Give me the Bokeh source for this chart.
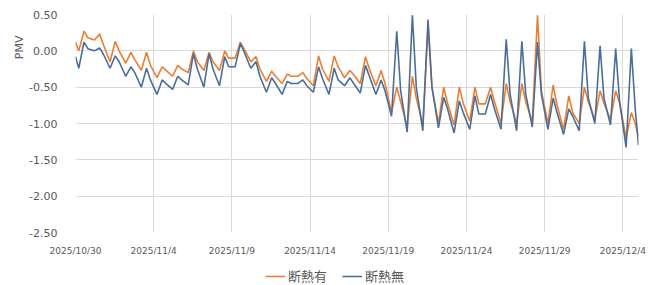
import pandas as pd
from bokeh.plotting import figure
from bokeh.layouts import column
from bokeh.models import FixedTicker, Legend, LegendItem, Title, Range1d
from bokeh.embed import file_html
from bokeh.resources import INLINE

# ---- data ----
first_day = "2025-10-30"
n_days = 36
sample_hours = [5, 13, 19]          # morning low, afternoon peak, evening

orange_start = 0.12
orange_end = -1.18
orange_min = [0.00, 0.15, -0.15, -0.17, -0.27, -0.37, -0.35, -0.30, -0.27, -0.27,
              -0.10, -0.15, -0.42, -0.45, -0.35, -0.48, -0.42, -0.37, -0.45, -0.48,
              -0.85, -1.05, -1.02, -1.00, -1.02, -0.97, -0.73, -1.00, -1.00, -0.98,
              -1.00, -1.08, -1.00, -0.95, -0.95, -1.20]
orange_peak = [0.27, 0.23, 0.13, -0.02, -0.02, -0.22, -0.20, 0.00, -0.02, 0.00,
               0.12, -0.08, -0.28, -0.32, -0.30, -0.07, -0.07, -0.27, -0.08, -0.27,
               -0.50, -0.35, 0.35, -0.50, -0.50, -0.50, -0.50, -0.45, -0.45, 0.49,
               -0.47, -0.62, -0.50, -0.55, -0.55, -0.85]
orange_eve = [0.18, 0.08, 0.00, -0.12, -0.20, -0.27, -0.25, -0.15, -0.15, -0.10,
              0.02, -0.25, -0.35, -0.35, -0.38, -0.25, -0.22, -0.33, -0.25, -0.45,
              -0.70, -0.65, -0.50, -0.72, -0.72, -0.73, -0.70, -0.70, -0.70, -0.55,
              -0.75, -0.85, -0.70, -0.72, -0.72, -1.00]

blue_start = -0.08
blue_end = -1.30
blue_min = [-0.24, 0.00, -0.24, -0.35, -0.50, -0.60, -0.53, -0.47, -0.50, -0.48,
            -0.22, -0.24, -0.57, -0.60, -0.45, -0.57, -0.60, -0.48, -0.58, -0.60,
            -0.90, -1.12, -1.10, -1.06, -1.13, -1.08, -0.87, -1.08, -1.10, -1.05,
            -1.08, -1.15, -1.10, -1.00, -1.02, -1.33]
blue_peak = [0.12, 0.04, -0.07, -0.22, -0.24, -0.40, -0.35, -0.04, -0.04, -0.08,
             0.10, -0.15, -0.37, -0.42, -0.40, -0.22, -0.24, -0.37, -0.20, -0.40,
             0.27, 0.49, 0.43, -0.64, -0.69, -0.62, -0.60, 0.16, 0.13, 0.12,
             -0.65, -0.80, 0.13, 0.07, 0.03, 0.03]
blue_eve = [0.03, -0.05, -0.15, -0.30, -0.40, -0.45, -0.40, -0.25, -0.25, -0.22,
            -0.02, -0.35, -0.45, -0.45, -0.48, -0.38, -0.40, -0.45, -0.35, -0.55,
            -0.55, -0.50, -0.50, -0.80, -0.85, -0.87, -0.80, -0.60, -0.60, -0.60,
            -0.85, -0.90, -0.65, -0.65, -0.70, -0.80]

series_names = ["断熱有", "断熱無"]
series_colors = ["#ED7D31", "#4A6E9B"]

x_tick_dates = ["2025-10-30", "2025-11-04", "2025-11-09", "2025-11-14",
                "2025-11-19", "2025-11-24", "2025-11-29", "2025-12-04"]
x_tick_labels = ["2025/10/30", "2025/11/4", "2025/11/9", "2025/11/14",
                 "2025/11/19", "2025/11/24", "2025/11/29", "2025/12/4"]
y_ticks = [-2.5, -2.0, -1.5, -1.0, -0.5, 0.0, 0.5]
y_tick_labels = ["-2.50", "-2.00", "-1.50", "-1.00", "-0.50", "0.00", "0.50"]
y_title = "PMV"

# ---- build series ----
day0 = pd.Timestamp(first_day)
days = [day0 + pd.Timedelta(days=i) for i in range(n_days)]
end_time = day0 + pd.Timedelta(days=n_days)


def build(start, mins, peaks, eves, end):
    xs, ys = [day0], [start]
    for d, a, b, c in zip(days, mins, peaks, eves):
        for h, v in zip(sample_hours, (a, b, c)):
            xs.append(d + pd.Timedelta(hours=h))
            ys.append(v)
    xs.append(end_time)
    ys.append(end)
    return xs, ys


ox, oy = build(orange_start, orange_min, orange_peak, orange_eve, orange_end)
bx, by = build(blue_start, blue_min, blue_peak, blue_eve, blue_end)

p = figure(width=651, height=258, x_axis_type="datetime",
           output_backend="svg", toolbar_location=None,
           min_border_left=75, min_border_right=13,
           min_border_top=14, min_border_bottom=20)
p.x_range = Range1d(day0, end_time)
p.y_range = Range1d(-2.5, 0.5)

r1 = p.line(ox, oy, line_color=series_colors[0], line_width=1.6)
r2 = p.line(bx, by, line_color=series_colors[1], line_width=1.6)

tick_ms = [int(pd.Timestamp(t).timestamp() * 1000) for t in x_tick_dates]
p.xaxis.ticker = FixedTicker(ticks=tick_ms)
p.xaxis.major_label_overrides = {t: l for t, l in zip(tick_ms, x_tick_labels)}
p.yaxis.ticker = FixedTicker(ticks=y_ticks)
p.yaxis.major_label_overrides = {t: l for t, l in zip(y_ticks, y_tick_labels)}

for ax in (p.xaxis[0], p.yaxis[0]):
    ax.axis_line_color = None
    ax.major_tick_line_color = None
    ax.minor_tick_line_color = None
    ax.major_label_text_color = "#595959"
    ax.major_label_text_font = "DejaVu Sans"
p.xaxis.major_label_text_font_size = "9px"
p.xaxis.major_label_standoff = 7
p.yaxis.major_label_text_font_size = "11px"
p.yaxis.major_label_standoff = 12

p.xgrid.grid_line_color = "#D9D9D9"
p.ygrid.grid_line_color = "#D9D9D9"
p.outline_line_color = None
p.background_fill_color = "white"
p.border_fill_color = "white"

t = Title(text=y_title, align="right", offset=21, text_font_size="11px",
          text_font="DejaVu Sans", text_color="#595959", text_font_style="normal",
          standoff=1)
p.add_layout(t, "left")

# ---- legend strip below the chart ----
lg = figure(width=651, height=27, output_backend="svg", toolbar_location=None,
            min_border=0, x_axis_location=None, y_axis_location=None,
            x_range=Range1d(0, 1), y_range=Range1d(0, 1))
lg.grid.visible = False
lg.outline_line_color = None
lr1 = lg.line(x=[-2, -1], y=[-2, -1], line_color=series_colors[0], line_width=1.6)
lr2 = lg.line(x=[-2, -1], y=[-2, -1], line_color=series_colors[1], line_width=1.6)
legend = Legend(items=[LegendItem(label=series_names[0], renderers=[lr1]),
                       LegendItem(label=series_names[1], renderers=[lr2])],
                orientation="horizontal", location=(190, 0),
                label_text_font="Noto Sans CJK JP", label_text_font_size="13px",
                label_text_color="#595959", glyph_width=20, glyph_height=14,
                label_height=14, label_standoff=3, spacing=15, padding=0, margin=0,
                border_line_color=None, background_fill_alpha=0)
lg.add_layout(legend, "center")

open("out.html", "w").write(file_html(column(p, lg, spacing=0), INLINE))
